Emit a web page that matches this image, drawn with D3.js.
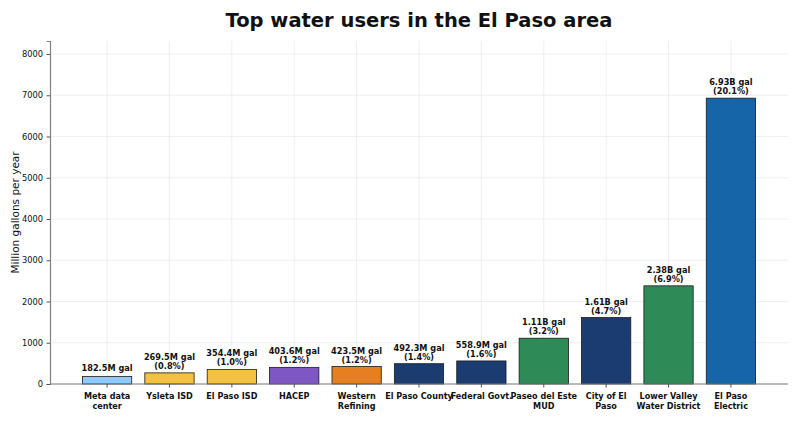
<!DOCTYPE html>
<html>
<head>
<meta charset="utf-8">
<script src="https://cdn.jsdelivr.net/npm/d3@7"></script>
<style>
  body { margin: 0; background: #fff; }
  svg { font-family: "DejaVu Sans", sans-serif; }
</style>
</head>
<body>
<div id="chart"></div>
<script>
var users = ["Meta data\ncenter", "Ysleta ISD", "El Paso ISD", "HACEP", "Western\nRefining", "El Paso County", "Federal Govt.", "Paseo del Este\nMUD", "City of El\nPaso", "Lower Valley\nWater District", "El Paso\nElectric"];
var gallons = [182.5, 269.5, 354.4, 403.6, 423.5, 492.3, 558.9, 1110, 1610, 2380, 6930];
var amountLabels = ["182.5M gal", "269.5M gal", "354.4M gal", "403.6M gal", "423.5M gal", "492.3M gal", "558.9M gal", "1.11B gal", "1.61B gal", "2.38B gal", "6.93B gal"];
var shares = [null, "0.8%", "1.0%", "1.2%", "1.2%", "1.4%", "1.6%", "3.2%", "4.7%", "6.9%", "20.1%"];
var colors = ["#90caf9", "#f4c142", "#f4c142", "#7e57c2", "#e67e22", "#1a3c70", "#1a3c70", "#2e8b57", "#1a3c70", "#2e8b57", "#1565a8"];
var yTicks = [0, 1000, 2000, 3000, 4000, 5000, 6000, 7000, 8000];

var width = 800, height = 421;
var margin = {top: 41, right: 12, bottom: 37, left: 50};

var svg = d3.select("#chart").append("svg")
    .attr("width", width)
    .attr("height", height);

var x = d3.scaleBand()
    .domain(d3.range(users.length))
    .range([margin.left, width - margin.right])
    .paddingInner(0.21)
    .paddingOuter(0.52)
    .align(0.5);

var y = d3.scaleLinear()
    .domain([0, 8316])
    .range([height - margin.bottom, margin.top]);

// grid
svg.append("g").selectAll("line.h")
    .data(yTicks)
    .enter().append("line")
    .attr("x1", margin.left).attr("x2", width - margin.right)
    .attr("y1", function(d){ return y(d); }).attr("y2", function(d){ return y(d); })
    .attr("stroke", "#ebebeb").attr("stroke-width", 0.8);

svg.append("g").selectAll("line.v")
    .data(d3.range(users.length))
    .enter().append("line")
    .attr("x1", function(d){ return x(d) + x.bandwidth() / 2; })
    .attr("x2", function(d){ return x(d) + x.bandwidth() / 2; })
    .attr("y1", margin.top).attr("y2", height - margin.bottom)
    .attr("stroke", "#ebebeb").attr("stroke-width", 0.8);

// bars
svg.append("g").selectAll("rect")
    .data(gallons)
    .enter().append("rect")
    .attr("x", function(d, i){ return x(i); })
    .attr("y", function(d){ return y(d); })
    .attr("width", x.bandwidth())
    .attr("height", function(d){ return y(0) - y(d); })
    .attr("fill", function(d, i){ return colors[i]; })
    .attr("stroke", "#1a1a1a")
    .attr("stroke-width", 0.8);

// value labels
var labels = svg.append("g").selectAll("text")
    .data(gallons)
    .enter().append("text")
    .attr("text-anchor", "middle")
    .attr("font-size", 8.2)
    .attr("font-weight", "bold")
    .attr("fill", "#111");

labels.each(function(d, i){
  var t = d3.select(this);
  var cx = x(i) + x.bandwidth() / 2;
  var base = y(d) - 4;
  if (shares[i]) {
    t.append("tspan").attr("x", cx).attr("y", base - 9).text(amountLabels[i]);
    t.append("tspan").attr("x", cx).attr("y", base).text("(" + shares[i] + ")");
  } else {
    t.append("tspan").attr("x", cx).attr("y", base - 1).text(amountLabels[i]);
  }
});

// axes
var yAxis = d3.axisLeft(y).tickValues(yTicks).tickFormat(d3.format("d")).tickSize(3.5).tickPadding(3.5);
var gy = svg.append("g")
    .attr("transform", "translate(" + margin.left + ",0)")
    .call(yAxis);
gy.select(".domain").attr("stroke", "#808080").attr("stroke-width", 1.2);
gy.selectAll(".tick line").attr("stroke", "#555");
gy.selectAll(".tick text").attr("font-size", 8.3).attr("fill", "#111").attr("font-family", "DejaVu Sans");

var xAxis = d3.axisBottom(x).tickSize(3.5).tickFormat("");
var gx = svg.append("g")
    .attr("transform", "translate(0," + y(0) + ")")
    .call(xAxis);
gx.select(".domain").attr("stroke", "#808080").attr("stroke-width", 1.2)
    .attr("d", "M" + margin.left + ",0H" + (width - margin.right));
gx.selectAll(".tick line").attr("stroke", "#555");

gx.selectAll(".tick").append("text")
    .attr("text-anchor", "middle")
    .attr("font-size", 8.1)
    .attr("font-weight", "bold")
    .attr("font-family", "DejaVu Sans")
    .attr("fill", "#111")
    .each(function(d){
      var lines = users[d].split("\n");
      var t = d3.select(this);
      lines.forEach(function(s, k){
        t.append("tspan").attr("x", 0).attr("y", 15 + k * 10).text(s);
      });
    });

// y label
svg.append("text")
    .attr("transform", "translate(19," + ((margin.top + height - margin.bottom) / 2) + ") rotate(-90)")
    .attr("text-anchor", "middle")
    .attr("font-size", 10.5)
    .attr("fill", "#111")
    .text("Million gallons per year");

// title
svg.append("text")
    .attr("x", (margin.left + width - margin.right) / 2)
    .attr("y", 27)
    .attr("text-anchor", "middle")
    .attr("font-size", 19.5)
    .attr("font-weight", "bold")
    .attr("fill", "#111")
    .text("Top water users in the El Paso area");
</script>
</body>
</html>
